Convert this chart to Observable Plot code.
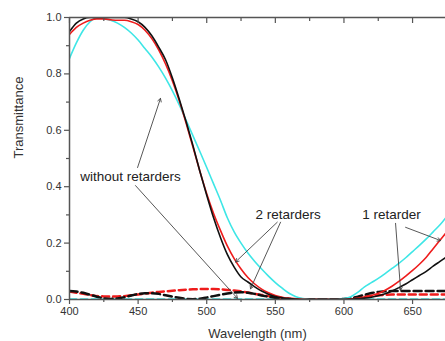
<!DOCTYPE html>
<html>
<head>
<meta charset="utf-8">
<script src="https://cdn.jsdelivr.net/npm/d3@7"></script>
<script src="https://cdn.jsdelivr.net/npm/@observablehq/plot@0.6"></script>
<style>
  html, body { margin: 0; padding: 0; background: #fff; }
  #chart { width: 445px; height: 341px; overflow: hidden; }
</style>
</head>
<body>
<div id="chart"></div>
<script>
// Wavelength samples (nm)
const wavelength = d3.range(400, 680, 5);

// Solid curves (parallel transmittance)
const blackSolid = [0.95,0.98,0.995,1.0,1.0,1.0,1.0,1.0,1.0,0.995,0.985,0.965,0.935,0.895,0.85,0.785,0.71,0.63,0.545,0.455,0.37,0.29,0.22,0.16,0.115,0.08,0.062,0.045,0.03,0.019,0.011,0.006,0.003,0.001,0,0,0,0,0,0,0.001,0.001,0.003,0.005,0.008,0.013,0.02,0.03,0.042,0.055,0.07,0.085,0.1,0.118,0.135,0.152];
const redSolid = [0.94,0.965,0.98,0.99,0.995,0.995,0.992,0.99,0.99,0.985,0.975,0.955,0.925,0.885,0.835,0.775,0.705,0.625,0.54,0.455,0.375,0.305,0.245,0.19,0.145,0.108,0.078,0.055,0.037,0.024,0.014,0.008,0.004,0.002,0.001,0,0,0,0,0,0,0.002,0.005,0.009,0.014,0.022,0.033,0.047,0.064,0.083,0.103,0.125,0.15,0.18,0.21,0.24];
const cyanSolid = [0.855,0.91,0.955,0.985,1.0,0.995,0.99,0.98,0.965,0.945,0.92,0.89,0.86,0.825,0.785,0.74,0.69,0.635,0.58,0.525,0.468,0.41,0.352,0.29,0.24,0.2,0.165,0.135,0.108,0.083,0.06,0.04,0.022,0.01,0.003,0,0,0,0,0,0.003,0.01,0.025,0.045,0.06,0.075,0.092,0.11,0.128,0.148,0.17,0.192,0.215,0.24,0.265,0.295];

// Dashed curves (crossed transmittance)
const blackDashed = [0.03,0.028,0.024,0.017,0.01,0.004,0.002,0.004,0.008,0.014,0.02,0.022,0.022,0.02,0.015,0.01,0.006,0.002,0.001,0.003,0.007,0.012,0.017,0.021,0.025,0.026,0.024,0.02,0.014,0.01,0.006,0.004,0.002,0.001,0.001,0.001,0.001,0.001,0.001,0.001,0.002,0.005,0.01,0.017,0.023,0.027,0.029,0.03,0.03,0.03,0.03,0.03,0.03,0.03,0.03,0.03];
const redDashed = [0.028,0.024,0.02,0.016,0.012,0.011,0.01,0.011,0.012,0.015,0.018,0.021,0.024,0.027,0.029,0.031,0.033,0.035,0.036,0.037,0.037,0.037,0.036,0.034,0.032,0.029,0.025,0.02,0.016,0.012,0.008,0.005,0.003,0.002,0.001,0,0,0,0,0,0.001,0.003,0.006,0.01,0.013,0.015,0.017,0.018,0.018,0.018,0.018,0.018,0.018,0.018,0.018,0.018];
const cyanDashed = wavelength.map(() => 0.001);

// Axis ticks
const yTicks = [0, 0.2, 0.4, 0.6, 0.8, 1.0];
const yMinor = [0.1, 0.3, 0.5, 0.7, 0.9];
const xTicks = [400, 450, 500, 550, 600, 650];
const xMinor = [425, 475, 525, 575, 625];
const xTitle = "Wavelength (nm)";
const yTitle = "Transmittance";

// Annotations
const labels = [
  {text: "without retarders", x: 444.5, y: 0.436},
  {text: "2 retarders", x: 559.3, y: 0.30},
  {text: "1 retarder", x: 634.7, y: 0.30}
];
const arrows = [
  {x1: 449.6, y1: 0.468, x2: 466.3, y2: 0.713},
  {x1: 448.1, y1: 0.404, x2: 522.4, y2: 0.004},
  {x1: 551.4, y1: 0.274, x2: 521.0, y2: 0.133},
  {x1: 553.8, y1: 0.274, x2: 531.9, y2: 0.038},
  {x1: 644.9, y1: 0.256, x2: 670.4, y2: 0.209},
  {x1: 637.6, y1: 0.270, x2: 641.3, y2: 0.032}
];

const toRows = (vals) => wavelength.map((w, i) => ({w, t: vals[i]}));

const axisColor = "#555";
const textColor = "#333";
const blank = () => "";

const chart = Plot.plot({
  width: 445,
  height: 341,
  marginTop: 17,
  marginBottom: 42,
  marginLeft: 69,
  marginRight: 0,
  style: {fontFamily: "Arial, 'Liberation Sans', sans-serif", fontSize: "11px", color: textColor, background: "#fff"},
  x: {domain: [400, 674]},
  y: {domain: [0, 1]},
  marks: [
    // lines
    Plot.line(toRows(cyanDashed), {x: "w", y: "t", stroke: "#3ee6e6", strokeWidth: 2, strokeDasharray: "7,4", clip: true}),
    Plot.line(toRows(redDashed), {x: "w", y: "t", stroke: "#ee1c1c", strokeWidth: 2.5, strokeDasharray: "7,4", clip: true}),
    Plot.line(toRows(blackDashed), {x: "w", y: "t", stroke: "#111", strokeWidth: 2.5, strokeDasharray: "8,4", clip: true}),
    Plot.line(toRows(cyanSolid), {x: "w", y: "t", stroke: "#3ee6e6", strokeWidth: 1.6, curve: "monotone-x", clip: true}),
    Plot.line(toRows(redSolid), {x: "w", y: "t", stroke: "#ee1c1c", strokeWidth: 1.6, curve: "monotone-x", clip: true}),
    Plot.line(toRows(blackSolid), {x: "w", y: "t", stroke: "#111", strokeWidth: 1.6, curve: "monotone-x", clip: true}),
    // frame lines
    Plot.ruleY([0], {stroke: axisColor, strokeWidth: 1.5}),
    Plot.ruleY([1], {stroke: axisColor, strokeWidth: 1.5}),
    Plot.ruleX([400], {stroke: axisColor, strokeWidth: 1.5}),
    // axes
    Plot.axisY(yTicks, {tickSize: 5, tickPadding: 3, stroke: axisColor, strokeWidth: 1.2, tickFormat: d3.format(".1f"), label: null, fontSize: 11}),
    Plot.axisY(yMinor, {tickSize: 3, stroke: axisColor, strokeWidth: 1.2, tickFormat: blank, label: null}),
    Plot.axisX(xTicks, {tickSize: 5, tickPadding: 3, stroke: axisColor, strokeWidth: 1.2, tickFormat: d3.format("d"), label: null, fontSize: 11}),
    Plot.axisX(xMinor, {tickSize: 3, stroke: axisColor, strokeWidth: 1.2, tickFormat: blank, label: null}),
    Plot.axisX(xTicks, {anchor: "top", tickSize: -5, stroke: axisColor, strokeWidth: 1.2, tickFormat: blank, label: null}),
    Plot.axisX(xMinor, {anchor: "top", tickSize: -3, stroke: axisColor, strokeWidth: 1.2, tickFormat: blank, label: null}),
    // axis titles
    Plot.text([xTitle], {frameAnchor: "bottom", text: d => d, dy: 34, fontSize: 13, fill: textColor, lineAnchor: "middle"}),
    Plot.text([yTitle], {frameAnchor: "left", text: d => d, dx: -51, rotate: -90, fontSize: 13, fill: textColor}),
    // annotations
    Plot.arrow(arrows, {x1: "x1", y1: "y1", x2: "x2", y2: "y2", stroke: "#444", strokeWidth: 0.9, headLength: 6}),
    Plot.text(labels, {x: "x", y: "y", text: "text", fontSize: 13.5, fill: "#222"})
  ]
});
document.getElementById("chart").appendChild(chart);
</script>
</body>
</html>
